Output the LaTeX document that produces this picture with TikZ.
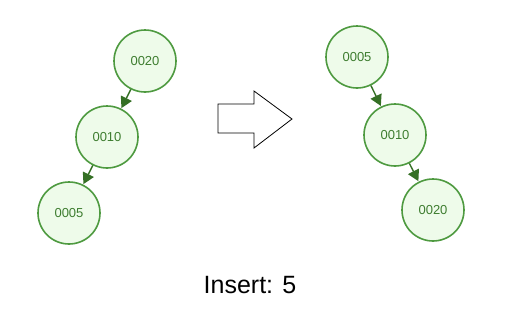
\documentclass[tikz,border=0pt]{standalone}
\usepackage{fontspec}
\setmainfont{Liberation Sans}
\usepackage{xcolor}
\usetikzlibrary{arrows.meta}
\definecolor{nodefill}{HTML}{EEFBEA}
\definecolor{nodeline}{HTML}{4E9A40}
\definecolor{nodetext}{HTML}{3E7D30}
\definecolor{edgecol}{HTML}{357025}

\begin{document}
\begin{tikzpicture}[x=1pt, y=-1pt,
    key/.style={circle, draw=nodeline, fill=nodefill, line width=1.6pt,
                minimum size=62pt, inner sep=0pt, text=nodetext,
                font=\fontsize{13}{15}\selectfont},
    link/.style={-{Triangle[length=11pt, width=12pt]}, draw=edgecol,
                 line width=1.4pt, shorten >=0.5pt}]
    \useasboundingbox (0,0) rectangle (514,308);

    % before
    \node[key] (l20) at (145,61)  {0020};
    \node[key] (l10) at (107,137) {0010};
    \node[key] (l5)  at (69,213)  {0005};
    \draw[link] (l20) -- (l10);
    \draw[link] (l10) -- (l5);

    % rotation
    \draw[line width=0.8pt, line join=miter]
      (218,104) -- (254,104) -- (254,91) -- (292,119)
      -- (254,148) -- (254,133) -- (218,133) -- cycle;

    % after
    \node[key] (r5)  at (357,57)  {0005};
    \node[key] (r10) at (395,135) {0010};
    \node[key] (r20) at (433,210) {0020};
    \draw[link] (r5) -- (r10);
    \draw[link] (r10) -- (r20);

    \node[font=\fontsize{25}{30}\selectfont] (cap) at (250,285) {Insert: 5};
\end{tikzpicture}
\end{document}
